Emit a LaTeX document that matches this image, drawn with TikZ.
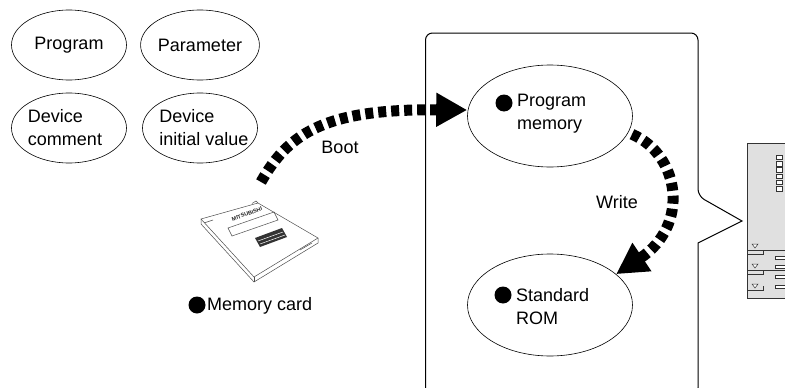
\documentclass[tikz,border=0pt]{standalone}
\usepackage{fontspec}
\setmainfont{Liberation Sans}
\usetikzlibrary{shapes.geometric,arrows.meta,calc}
\begin{document}
\begin{tikzpicture}[x=1pt,y=-1pt,
  every node/.style={font=\fontsize{18}{23}\selectfont,inner sep=0pt},
  oval/.style={ellipse,draw,line width=0.6pt,minimum width=115pt,minimum height=70pt},
  memoval/.style={ellipse,draw,line width=0.6pt,minimum width=165pt,minimum height=102pt},
  dot/.style={circle,fill=black,minimum size=17pt,inner sep=0pt},
  flow/.style={line width=11pt,dash pattern=on 8pt off 5pt,
    -{Triangle[length=31pt,width=32pt]}},
  cardline/.style={line width=0.5pt,draw=black!70},
  panel/.style={line width=0.5pt,draw=black!80}]
\useasboundingbox (0,0) rectangle (785,388);

% data kinds stored on the card
\node[oval] (prog) at (69,45) {Program};
\node[oval] (para) at (200,45) {Parameter};
\node[oval] (devc) at (69,128) {};
\node[oval] (devi) at (200,128) {};
\node[align=left] (devctext) at (65,128) {Device\\comment};
\node[align=left] (devitext) at (204,128) {Device\\initial value};

% callout frame with its pointer
\begin{scope}
\clip (0,0) rectangle (785,388);
\draw[line width=1pt,rounded corners=7pt]
  (425.5,395) -- (425.5,33) -- (698,33) -- (698,196)
  [sharp corners] -- (742,221) -- (698,243)
  [rounded corners=7pt] -- (698,395) -- cycle;

% CPU module, cut off at the right
\draw[panel,fill=black!12] (747,143) rectangle (800,298);
\foreach \ly in {155,161.3,167.6,173.9,180.2,186.5}
  \draw[panel,fill=white] (776,\ly) rectangle (782,\ly+4.5);
\foreach \sy in {250,270}{
  \draw[panel] (747,\sy) -- (790,\sy);
  \draw[panel] (747,\sy+4) -- (763,\sy+4) -- (763,\sy);
}
\draw[panel] (747,290) -- (763,290) -- (763,286);
\foreach \by in {256,265,275,285}
  \draw[panel,fill=white] (775,\by) rectangle (790,\by+3);
\foreach \ty in {244,264,284}
  \draw[panel,fill=white] (752,\ty) -- (758,\ty) -- (755,\ty+4) -- cycle;
\end{scope}

% memory areas inside the CPU
\node[memoval] (pm) at (550,116) {};
\node[memoval] (rom) at (550,305) {};
\node[dot] (pmdot) at (504,103) {};
\node[align=left,anchor=west] (pmtext) at (517,113.5) {Program\\memory};
\node[dot] (romdot) at (503,295) {};
\node[align=left,anchor=west] (romtext) at (516,306.5) {Standard\\ROM};

% memory card drawing
\coordinate (cardL) at (201,219);
\coordinate (cardT) at (258,203);
\coordinate (cardR) at (318,238);
\coordinate (cardB) at (254,277);
\draw[cardline,fill=white] (cardL) -- (cardT) -- (cardR) -- (cardB) -- cycle;
\draw[cardline] (cardL) -- ++(0,5) -- ($(cardB)+(0,5)$) -- ($(cardR)+(0,5)$) -- (cardR);
\draw[cardline] ($(cardB)+(0,5)$) -- (cardB);
\draw[cardline] (204,223) -- (213,220);
\draw[cardline] (300,250) -- (312,243);
\draw[cardline] (252,203.5) -- (256,201) -- (258,203);
\draw[cardline] (228,228) -- (274,212) -- (278,220) -- (232,236) -- cycle;
\fill[black!80] (255,238) -- (282,228) -- (287,237) -- (260,247) -- cycle;
\draw[white,line width=0.5pt] (258,241) -- (283,232) (260,244) -- (285,235);
\node[rotate=20,font=\fontsize{5.5}{5.5}\selectfont\bfseries,text=black!85]
  (brand) at (247,214) {MITSUBISHI};
\coordinate (bootstart) at (261,182);
\node[dot] (carddot) at (197,305) {};
\node[anchor=west] (cardtext) at (207,306) {Memory card};

% transfers
\coordinate (bootend) at ($(pm.west)+(0,-6)$);
\draw[flow] (bootstart) .. controls (290,130) and (330,109) .. (bootend);
\node (boot) at (340,147) {Boot};
\draw[flow,shorten <=4pt] (pm.-12) .. controls (680,155) and (690,225) .. (rom.25);
\node (write) at (617,202) {Write};
\end{tikzpicture}
\end{document}
